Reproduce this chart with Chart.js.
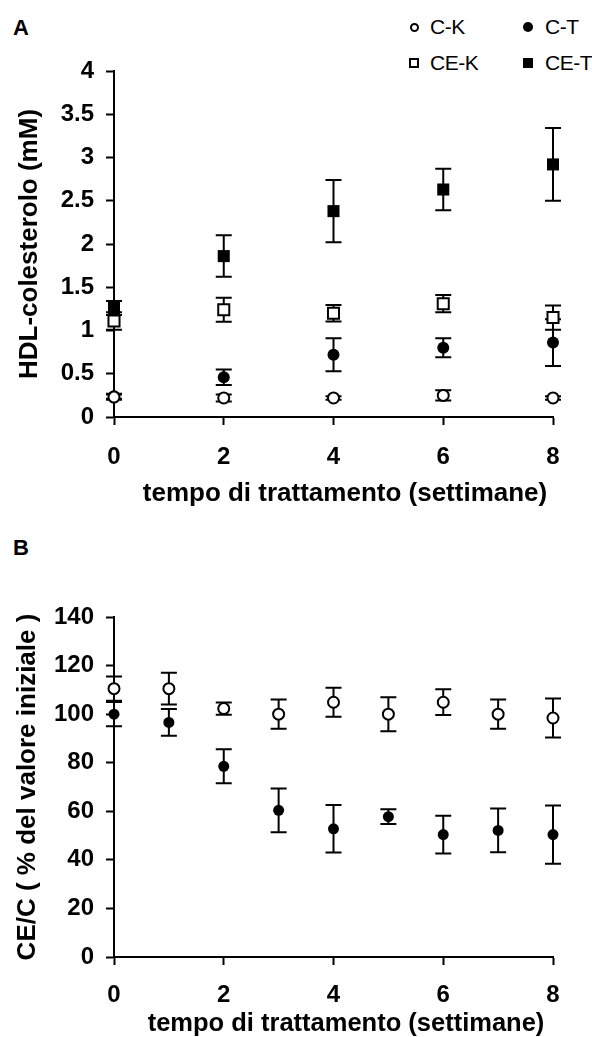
<!DOCTYPE html>
<html lang="it">
<head>
<meta charset="utf-8">
<title>HDL-colesterolo e CE/C</title>
<script src="https://cdn.jsdelivr.net/npm/chart.js@4.4.1/dist/chart.umd.min.js"></script>
<style>
  html, body { margin: 0; padding: 0; background: #fff; }
  body { width: 592px; height: 1037px; position: relative; overflow: hidden; font-family: 'Liberation Sans', Arial, sans-serif; color: #000; }
  .box { position: absolute; left: 0; width: 592px; }
  #boxA { top: 0; height: 520px; }
  #boxB { top: 520px; height: 517px; }
  .panel { position: absolute; left: 13px; font-weight: bold; font-size: 22px; line-height: 24px; }
  .lg { position: absolute; font-size: 21px; line-height: 24px; letter-spacing: -0.5px; }
  .mk { position: absolute; box-sizing: border-box; }
  .mk.ko { width: 9px; height: 9px; border: 2px solid #000; border-radius: 50%; }
  .mk.kf { width: 10px; height: 10px; background: #000; border-radius: 50%; }
  .mk.so { width: 10px; height: 10px; border: 2px solid #000; }
  .mk.sf { width: 10px; height: 10px; background: #000; }
</style>
</head>
<body>
<div class="panel" style="top:16px">A</div>
<div class="panel" style="top:536px">B</div>

<div class="mk ko" style="left:410px;top:23px"></div>
<div class="lg" style="left:430px;top:15px">C-K</div>
<div class="mk kf" style="left:523px;top:22px"></div>
<div class="lg" style="left:545px;top:15px">C-T</div>
<div class="mk so" style="left:409px;top:58px"></div>
<div class="lg" style="left:430px;top:51px">CE-K</div>
<div class="mk sf" style="left:523px;top:58px"></div>
<div class="lg" style="left:545px;top:51px">CE-T</div>

<div class="box" id="boxA"><canvas id="chartA"></canvas></div>
<div class="box" id="boxB"><canvas id="chartB"></canvas></div>

<script>
// settimane di trattamento
const weeksA = [0, 2, 4, 6, 8];
const weeksB = [0, 1, 2, 3, 4, 5, 6, 7, 8];

// pannello A: HDL-colesterolo (mM), media e errore
const ckA = [0.23, 0.22, 0.22, 0.25, 0.22];
const ckErrA = [0.03, 0.04, 0.02, 0.06, 0.02];
const ctA = [0.24, 0.46, 0.72, 0.80, 0.86];
const ctErrA = [0.03, 0.09, 0.19, 0.11, 0.27];
const cekA = [1.11, 1.24, 1.20, 1.31, 1.15];
const cekErrA = [0.10, 0.14, 0.095, 0.10, 0.14];
const cetA = [1.26, 1.86, 2.38, 2.63, 2.92];
const cetErrA = [0.08, 0.24, 0.36, 0.24, 0.42];

// pannello B: CE/C in % del valore iniziale
const ckB = [110.5, 110.5, 102.3, 100, 104.9, 100, 104.9, 100, 98.4];
const ckErrB = [5, 6.5, 2.5, 6, 6, 7, 5.3, 6, 8];
const ctB = [100, 96.6, 78.5, 60.4, 52.8, 57.8, 50.4, 52.1, 50.4];
const ctErrB = [5, 5.5, 7, 9, 9.8, 3, 7.8, 9, 12];

const xTicks = [0, 2, 4, 6, 8];
const FONT = "'Liberation Sans', Arial, sans-serif";

const pts = (xs, ys) => xs.map((x, i) => ({ x, y: ys[i] }));

// barre d'errore sotto ai simboli
const errorBars = {
  id: 'errorBars',
  beforeDatasetsDraw(chart) {
    const ctx = chart.ctx, sx = chart.scales.x, sy = chart.scales.y;
    ctx.save();
    ctx.strokeStyle = '#000';
    ctx.lineWidth = 2;
    chart.data.datasets.forEach(ds => {
      ds.data.forEach((p, i) => {
        const e = ds.errors[i];
        const px = sx.getPixelForValue(p.x);
        const top = sy.getPixelForValue(p.y + e);
        const bot = sy.getPixelForValue(p.y - e);
        ctx.beginPath();
        ctx.moveTo(px, top); ctx.lineTo(px, bot);
        ctx.moveTo(px - 8, top); ctx.lineTo(px + 8, top);
        ctx.moveTo(px - 8, bot); ctx.lineTo(px + 8, bot);
        ctx.stroke();
      });
    });
    ctx.restore();
  }
};

// titoli degli assi in posizione fissa
const axisText = {
  id: 'axisText',
  afterDraw(chart, args, opts) {
    const ctx = chart.ctx;
    ctx.save();
    ctx.fillStyle = '#000';
    ctx.textAlign = 'center';
    ctx.textBaseline = 'middle';
    ctx.font = `bold ${opts.xSize}px ${FONT}`;
    ctx.fillText(opts.xText, opts.xPos[0], opts.xPos[1]);
    ctx.translate(opts.yPos[0], opts.yPos[1]);
    ctx.rotate(-Math.PI / 2);
    ctx.font = `bold ${opts.ySize}px ${FONT}`;
    ctx.fillText(opts.yText, 0, 0);
    ctx.restore();
  }
};

function series(label, xs, ys, errs, style, r) {
  const filled = style.endsWith('f');
  return {
    label,
    data: pts(xs, ys),
    errors: errs,
    pointStyle: style.startsWith('s') ? 'rect' : 'circle',
    pointRadius: style.startsWith('s') ? r * 1.42 : r,
    pointBackgroundColor: filled ? '#000' : '#fff',
    pointBorderColor: '#000',
    pointBorderWidth: filled ? 0 : 2,
    showLine: false,
    clip: false
  };
}

function makeOptions(cfg) {
  return {
    responsive: true,
    maintainAspectRatio: false,
    animation: false,
    layout: { padding: { left: 0, right: 39, top: cfg.top, bottom: 0 } },
    plugins: {
      legend: { display: false },
      tooltip: { enabled: false },
      axisText: cfg.text
    },
    scales: {
      x: {
        type: 'linear', min: 0, max: 8,
        afterBuildTicks: s => { s.ticks = xTicks.map(v => ({ value: v })); },
        afterFit: s => { s.height = cfg.xHeight; },
        border: { display: true, color: '#000', width: 2 },
        grid: { drawOnChartArea: false, tickLength: 8, tickColor: '#000', tickWidth: 2 },
        ticks: { color: '#000', padding: cfg.xPad, maxRotation: 0, font: { family: FONT, weight: 'bold', size: 24 } }
      },
      y: {
        type: 'linear', min: 0, max: cfg.yMax,
        ticks: {
          stepSize: cfg.yStep, color: '#000', padding: 12,
          callback: v => String(v),
          font: { family: FONT, weight: 'bold', size: 24 }
        },
        afterFit: s => { s.width = 114; },
        border: { display: true, color: '#000', width: 2 },
        grid: { drawOnChartArea: false, tickLength: 8, tickColor: '#000', tickWidth: 2 }
      }
    }
  };
}

new Chart(document.getElementById('chartA'), {
  type: 'scatter',
  data: {
    datasets: [
      series('C-K', weeksA, ckA, ckErrA, 'co', 5.5),
      series('C-T', weeksA, ctA, ctErrA, 'cf', 6),
      series('CE-K', weeksA, cekA, cekErrA, 'so', 5.5),
      series('CE-T', weeksA, cetA, cetErrA, 'sf', 6)
    ]
  },
  options: makeOptions({
    top: 71, xHeight: 103, xPad: 18, yMax: 4, yStep: 0.5,
    text: {
      xText: 'tempo di trattamento (settimane)', xSize: 26, xPos: [345, 494],
      yText: 'HDL-colesterolo (mM)', ySize: 26, yPos: [30, 244]
    }
  }),
  plugins: [errorBars, axisText]
});

new Chart(document.getElementById('chartB'), {
  type: 'scatter',
  data: {
    datasets: [
      series('C-K', weeksB, ckB, ckErrB, 'co', 5.5),
      series('C-T', weeksB, ctB, ctErrB, 'cf', 5.5)
    ]
  },
  options: makeOptions({
    top: 97, xHeight: 80, xPad: 16, yMax: 140, yStep: 20,
    text: {
      xText: 'tempo di trattamento (settimane)', xSize: 25.5, xPos: [346, 504],
      yText: 'CE/C ( % del valore iniziale )', ySize: 26, yPos: [28, 267]
    }
  }),
  plugins: [errorBars, axisText]
});
</script>
</body>
</html>
